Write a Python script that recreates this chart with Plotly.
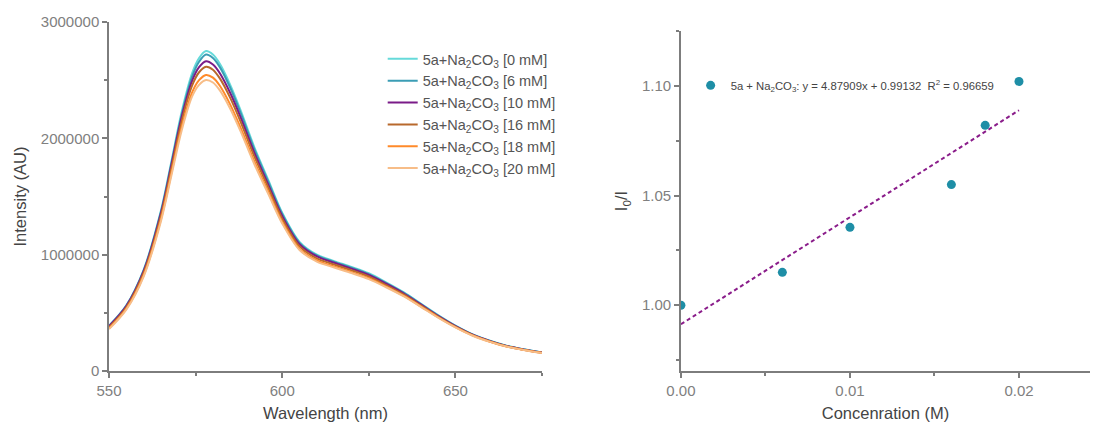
import plotly.graph_objects as go

# ---------------- data: emission spectra ----------------
wavelength = [550, 555, 560, 565, 568, 571, 574, 576, 578, 580, 582, 585, 588, 592, 596,
              600, 605, 610, 615, 620, 625, 630, 635, 640, 645, 650, 655, 660, 665, 670, 675]

int_0mM = [390, 565, 870, 1380, 1800, 2230, 2560, 2690, 2750, 2720, 2640, 2460, 2240, 1920, 1640,
           1360, 1110, 1000, 945, 895, 840, 762, 678, 580, 480, 390, 315, 260, 215, 185, 160]
int_6mM = [385, 560, 862, 1368, 1782, 2205, 2530, 2658, 2720, 2690, 2612, 2435, 2218, 1902, 1625,
           1350, 1102, 993, 938, 888, 833, 756, 673, 576, 477, 388, 313, 258, 214, 184, 159]
int_10mM = [385, 558, 858, 1358, 1768, 2185, 2495, 2612, 2662, 2635, 2560, 2390, 2180, 1872, 1600,
            1332, 1090, 985, 930, 880, 825, 750, 668, 572, 474, 386, 312, 257, 213, 183, 158]
int_16mM = [375, 548, 843, 1335, 1740, 2150, 2455, 2568, 2615, 2590, 2515, 2348, 2142, 1842, 1575,
            1310, 1072, 968, 915, 866, 812, 738, 658, 564, 468, 381, 308, 254, 211, 181, 157]
int_18mM = [365, 535, 823, 1305, 1700, 2100, 2395, 2500, 2545, 2522, 2452, 2290, 2090, 1800, 1540,
            1282, 1050, 950, 898, 850, 798, 726, 648, 556, 462, 377, 305, 252, 209, 180, 156]
int_20mM = [360, 528, 812, 1288, 1678, 2070, 2360, 2460, 2502, 2480, 2412, 2255, 2060, 1775, 1520,
            1268, 1040, 940, 890, 842, 790, 720, 643, 552, 459, 375, 303, 250, 208, 179, 155]

series_names = ["5a+Na<sub>2</sub>CO<sub>3</sub> [0 mM]",
                "5a+Na<sub>2</sub>CO<sub>3</sub> [6 mM]",
                "5a+Na<sub>2</sub>CO<sub>3</sub> [10 mM]",
                "5a+Na<sub>2</sub>CO<sub>3</sub> [16 mM]",
                "5a+Na<sub>2</sub>CO<sub>3</sub> [18 mM]",
                "5a+Na<sub>2</sub>CO<sub>3</sub> [20 mM]"]
series_values = [int_0mM, int_6mM, int_10mM, int_16mM, int_18mM, int_20mM]
series_colors = ["#66dada", "#3b9db5", "#7a1b88", "#b8692c", "#ff8a2a", "#f7bd88"]

# ---------------- data: Stern-Volmer ----------------
conc_M = [0.0, 0.006, 0.010, 0.016, 0.018, 0.020]
i0_over_i = [1.000, 1.015, 1.0355, 1.055, 1.082, 1.102]
fit_slope = 4.87909
fit_intercept = 0.99132
fit_x = [0.0, 0.020]

GRAY = "#7d7d7d"
FONT = "Arial, Liberation Sans, sans-serif"

fig = go.Figure()

for name, vals, col in zip(series_names, series_values, series_colors):
    fig.add_trace(go.Scatter(
        x=wavelength, y=[v * 1000 for v in vals], mode="lines", name=name,
        line=dict(color=col, width=2, shape="spline", smoothing=0.9),
        xaxis="x", yaxis="y", legend="legend"))

fig.add_trace(go.Scatter(
    x=fit_x, y=[fit_slope * x + fit_intercept for x in fit_x], mode="lines",
    line=dict(color="#8a1c8a", width=2, dash="4px,3px"), showlegend=False,
    xaxis="x2", yaxis="y2"))

fig.add_trace(go.Scatter(
    x=conc_M, y=i0_over_i, mode="markers",
    marker=dict(color="#1e8ea6", size=9),
    name="5a + Na<sub>2</sub>CO<sub>3</sub>: y = 4.87909x + 0.99132  R<sup>2</sup> = 0.96659",
    xaxis="x2", yaxis="y2", legend="legend2"))

axis_common = dict(showline=True, linecolor=GRAY, linewidth=1.5, ticks="outside",
                   tickcolor=GRAY, ticklen=5, tickwidth=1.5, showgrid=False, zeroline=False,
                   tickfont=dict(size=15, color="#808080", family=FONT),
                   minor=dict(ticks="outside", ticklen=3, tickcolor=GRAY, tickwidth=1.5))

fig.update_layout(
    width=1094, height=426,
    margin=dict(l=109, r=4, t=22, b=55),
    paper_bgcolor="white", plot_bgcolor="white",
    font=dict(family=FONT, color="#444"),
    xaxis=dict(domain=[0, 0.4414], range=[550, 675], tickvals=[550, 600, 650],
               minor_tickvals=[575, 625, 675],
               title=dict(text="Wavelength (nm)", font=dict(size=16.5, color="#444"), standoff=10),
               anchor="y", **axis_common),
    yaxis=dict(domain=[0, 1], range=[0, 3000000], tickvals=[0, 1000000, 2000000, 3000000],
               ticktext=["0", "1000000", "2000000", "3000000"],
               minor_tickvals=[500000, 1500000, 2500000],
               title=dict(text="Intensity (AU)", font=dict(size=16.5, color="#444"), standoff=10),
               anchor="x", **axis_common),
    xaxis2=dict(domain=[0.583, 1], range=[0, 0.0242], tickvals=[0, 0.01, 0.02],
                ticktext=["0.00", "0.01", "0.02"], minor_tickvals=[0.005, 0.015],
                title=dict(text="Concenration (M)", font=dict(size=16.5, color="#444"), standoff=10),
                anchor="y2", **axis_common),
    yaxis2=dict(domain=[0, 0.974], range=[0.97, 1.125], tickvals=[1.0, 1.05, 1.10],
                ticktext=["1.00", "1.05", "1.10"], minor_tickvals=[0.975, 1.025, 1.075, 1.125],
                title=dict(text="I<sub>0</sub>/I", font=dict(size=16.5, color="#444"), standoff=10),
                anchor="x2", **axis_common),
    legend=dict(x=0.279, y=0.94, xanchor="left", yanchor="top", bgcolor="rgba(0,0,0,0)",
                font=dict(size=14.5, color="#555", family=FONT), tracegroupgap=0),
    legend2=dict(x=0.5929, y=0.8185, xanchor="left", yanchor="middle", bgcolor="rgba(0,0,0,0)",
                 font=dict(size=11.3, color="#444", family=FONT)),
)

fig.write_html("out.html")
